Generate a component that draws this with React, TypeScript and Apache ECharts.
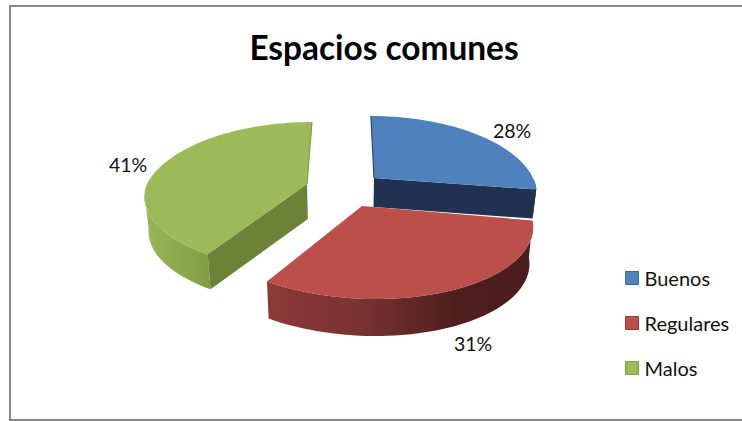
import React, { useEffect, useRef } from "react";
import * as echarts from "echarts";

const categories = ["Buenos", "Regulares", "Malos"];
const values = [28, 31, 41];
const topColors = ["#4F81BD", "#BC4E4B", "#9BBB59"];
const legendBorders = ["#3A6A9E", "#98393A", "#7F9A48"];
const radialWallColors = ["#1F3350", "#4A1C1C", "#6B8238"];
const arcWallStops = [
  ["#1F3350", "#1F3350"],
  ["#8C3A38", "#7A3230", "#4F1F1E", "#4A1C1C"],
  ["#9AB757", "#7F9D43"],
];

// Layout of the exploded pie in pixels (perspective circle, one apex per slice).
const apexX = [374, 362, 307];
const apexY = [178, 206, 184];
const radiusX = [159, 165, 160];
const wallDepth = [29, 37, 35];
const skewBack = [0.05, 0, -0.08];
const skewFront = [0, 0.15, 0.05];
const frontScale = [0.8, 1, 0.93];
const labelX = [512, 473, 128];
const labelY = [130, 343, 164];
const RY = 74.4;
const K = 0.2;
const VANISH_X = 350;
const VANISH_K = 0.02;
const FONT = "Lato";

const total = values.reduce((a, b) => a + b, 0);

function sliceAngles(i: number): [number, number] {
  let s = 0;
  for (let j = 0; j < i; j++) s += values[j];
  return [(s / total) * 360, ((s + values[i]) / total) * 360];
}

function project(i: number, deg: number): [number, number] {
  const r = (deg * Math.PI) / 180;
  const v = -Math.cos(r);
  const d = 1 - K * v;
  const dy = (RY * v) / d;
  const y = dy > 0 ? dy * frontScale[i] : dy;
  const skew = dy > 0 ? skewFront[i] : skewBack[i];
  return [apexX[i] + (radiusX[i] * Math.sin(r)) / d + skew * dy, apexY[i] + y];
}

function drop(i: number, p: number[]): [number, number] {
  return [p[0] - (p[0] - VANISH_X) * VANISH_K, p[1] + wallDepth[i]];
}

function arc(i: number, a: number, b: number): [number, number][] {
  const n = Math.max(2, Math.ceil(Math.abs(b - a) / 2));
  const out: [number, number][] = [];
  for (let q = 0; q <= n; q++) out.push(project(i, a + ((b - a) * q) / n));
  return out;
}

function makeRenderItem(i: number) {
  return (_params: any, api: any) => {
    const value = api.value(0);
    const [a0, a1] = sliceAngles(i);
    const apex: [number, number] = [apexX[i], apexY[i]];
    const children: any[] = [];

    // outer wall (only the part that faces the viewer)
    const wa = Math.max(a0, 92);
    const wb = Math.min(a1, 262);
    if (wb > wa) {
      const top = arc(i, wa, wb);
      const bottom = top.map((p) => drop(i, p)).reverse();
      const stops = arcWallStops[i];
      const offsets = i === 1 ? [0, 0.35, 0.7, 1] : [0, 1];
      children.push({
        type: "polygon",
        shape: { points: [...top, ...bottom] },
        style: {
          fill: {
            type: "linear", x: 0, y: 0, x2: 1, y2: 0,
            colorStops: stops.map((color, q) => ({ offset: offsets[q], color })),
          },
        },
      });
    }

    // radial wall that faces the viewer
    const wallEnd = i === 0 ? project(i, a1) : i === 2 ? project(i, a0) : null;
    if (wallEnd) {
      children.push({
        type: "polygon",
        shape: { points: [apex, wallEnd, drop(i, wallEnd), drop(i, apex)] },
        style: { fill: radialWallColors[i] },
      });
    }

    // top face
    children.push({
      type: "polygon",
      shape: { points: [apex, ...arc(i, a0, a1)] },
      style: { fill: topColors[i] },
    });

    // thin seam on the radial edge seen at a grazing angle
    if (i !== 1) {
      const seamEnd = i === 0 ? project(i, a0) : project(i, a1);
      children.push({
        type: "polyline",
        shape: { points: [seamEnd, apex] },
        style: { stroke: i === 0 ? "#2A4A73" : "#7F9D43", lineWidth: 1.2, fill: "none" },
      });
    }

    // data label
    children.push({
      type: "text",
      style: {
        text: `${value}%`,
        x: labelX[i],
        y: labelY[i],
        align: "center",
        verticalAlign: "middle",
        fontFamily: FONT,
        fontSize: 19.5,
        fill: "#111111",
      },
    });

    return { type: "group", children };
  };
}

export default function App() {
  const ref = useRef<HTMLDivElement>(null);
  useEffect(() => {
    const chart = echarts.init(ref.current!, undefined, { renderer: "svg" });
    chart.setOption({
      animation: false,
      backgroundColor: "#ffffff",
      title: {
        text: "Espacios comunes",
        left: 379,
        top: 25,
        textAlign: "center",
        textStyle: { fontFamily: FONT, fontWeight: "bold", fontSize: 33.4, color: "#000000" },
      },
      legend: {
        orient: "vertical",
        left: 620,
        top: 263,
        itemWidth: 13,
        itemHeight: 13,
        itemGap: 25,
        icon: "rect",
        selectedMode: false,
        textStyle: { fontFamily: FONT, fontSize: 20, color: "#111111", padding: [0, 0, 0, 1] },
        data: categories.map((name, i) => ({
          name,
          itemStyle: { color: topColors[i], borderColor: legendBorders[i], borderWidth: 1 },
        })),
      },
      graphic: [
        {
          type: "rect",
          silent: true,
          shape: { x: 10, y: 6, width: 800, height: 414 },
          style: { fill: "none", stroke: "#868686", lineWidth: 2 },
        },
      ],
      series: categories.map((name, i) => ({
        type: "custom",
        name,
        coordinateSystem: "none",
        itemStyle: { color: topColors[i] },
        renderItem: makeRenderItem(i),
        data: [[values[i]]],
      })),
    });
    return () => chart.dispose();
  }, []);
  return <div ref={ref} style={{ position: "absolute", left: 0, top: 0, width: 742, height: 421 }} />;
}
